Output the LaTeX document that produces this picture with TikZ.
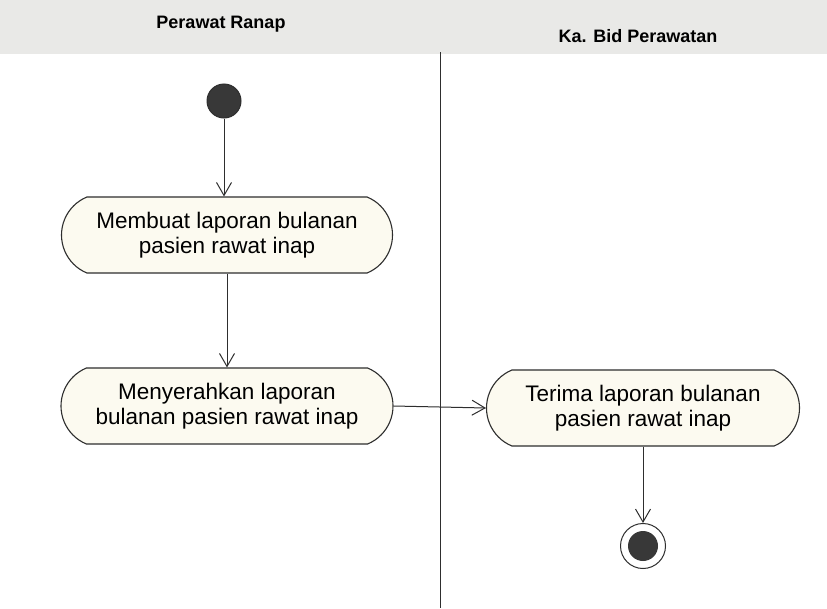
\documentclass[tikz,border=0pt]{standalone}
\usepackage{fontspec}
\setmainfont{Liberation Sans}
\usetikzlibrary{arrows.meta,shapes.misc}

\definecolor{ink}{HTML}{2E2E2E}
\definecolor{actfill}{HTML}{FCFAF0}
\definecolor{band}{HTML}{E9E9E7}

\tikzset{
  activity/.style={rounded rectangle, rounded rectangle arc length=135,
    draw=ink, line width=1.1pt, fill=actfill, text=black,
    minimum height=76pt, inner sep=0pt, align=center,
    font=\fontsize{22.5}{25.5}\selectfont},
  flow/.style={draw=ink, line width=1pt,
    -{Straight Barb[length=13pt,width=15pt,line width=1pt]}},
  lanehead/.style={font=\bfseries\fontsize{18}{20}\selectfont, text=black},
  initnode/.style={circle, draw=ink, line width=1pt, fill=ink!95, minimum size=34pt, inner sep=0pt},
}

\begin{document}
\begin{tikzpicture}[x=1pt,y=-1pt]
  \useasboundingbox (0,0) rectangle (827,608);
  \fill[white] (0,0) rectangle (827,608);

  % swimlane header band
  \fill[band] (0,0) rectangle (827,54);
  \node[lanehead, anchor=base] (laneA) at (221,28) {Perawat Ranap};
  \node[lanehead, anchor=base] (laneB) at (638,42) {Ka. Bid Perawatan};

  % lane divider
  \coordinate (divtop) at (440,52);
  \coordinate (divbot) at (440,608);
  \draw[ink, line width=1pt] (divtop) -- (divbot);

  % initial node
  \node[initnode] (start) at (224,101) {};

  % activities
  \node[activity, minimum width=331pt] (n1) at (227,235)
    {Membuat laporan bulanan\\pasien rawat inap};
  \node[activity, minimum width=332pt] (n2) at (227,406)
    {Menyerahkan laporan\\bulanan pasien rawat inap};
  \node[activity, minimum width=313pt] (n3) at (643,408)
    {Terima laporan bulanan\\pasien rawat inap};

  % final node
  \node[circle, draw=ink, line width=1pt, fill=white, minimum size=45pt, inner sep=0pt] (end) at (643,546) {};
  \node[circle, fill=ink!95, minimum size=30pt, inner sep=0pt] (endcore) at (end) {};

  % control flows
  \draw[flow] (start) -- (start |- n1.north);
  \draw[flow] (n1.south) -- (n2.north);
  \draw[flow] (n2.east) -- (n3.west);
  \draw[flow] (n3.south) -- (end.north);
\end{tikzpicture}
\end{document}
